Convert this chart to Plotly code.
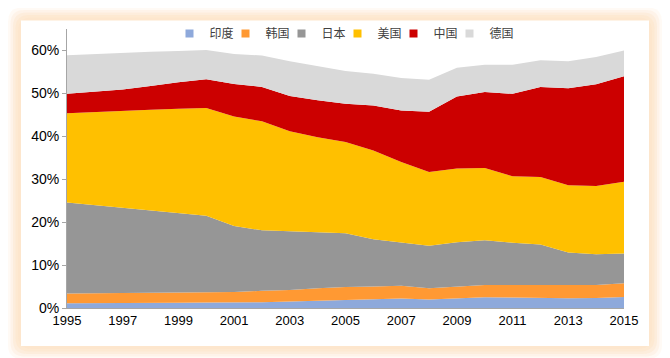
import plotly.graph_objects as go

years = list(range(1995, 2016))
tick_years = list(range(1995, 2016, 2))
y_ticks = [0, 10, 20, 30, 40, 50, 60]

# shares of world total, in percent
india   = [1.1, 1.1, 1.15, 1.2, 1.2, 1.3, 1.3, 1.35, 1.5, 1.7, 1.9, 2.0, 2.2, 2.0, 2.25, 2.5, 2.45, 2.3, 2.3, 2.35, 2.55]
korea   = [2.3, 2.35, 2.35, 2.35, 2.4, 2.35, 2.4, 2.65, 2.7, 2.9, 3.0, 3.0, 3.0, 2.6, 2.75, 2.85, 2.9, 3.05, 3.05, 3.0, 3.2]
japan   = [21.2, 20.55, 19.8, 19.25, 18.6, 17.85, 15.4, 14.1, 13.7, 13.0, 12.5, 11.0, 10.0, 9.9, 10.3, 10.45, 9.85, 9.45, 7.6, 7.15, 6.95]
usa     = [20.8, 21.7, 22.7, 23.4, 24.2, 25.1, 25.5, 25.4, 23.3, 22.2, 21.3, 20.7, 18.8, 17.2, 17.2, 16.8, 15.5, 15.7, 15.65, 15.9, 16.7]
china   = [4.5, 4.7, 4.9, 5.5, 6.2, 6.7, 7.6, 8.0, 8.2, 8.6, 8.9, 10.5, 12.0, 14.0, 16.8, 17.7, 19.2, 21.0, 22.6, 23.7, 24.6]
germany = [9.0, 8.8, 8.6, 8.0, 7.3, 6.8, 7.0, 7.3, 8.1, 7.9, 7.6, 7.4, 7.6, 7.5, 6.7, 6.4, 6.8, 6.2, 6.3, 6.4, 6.0]

series_names = ["印度", "韩国", "日本", "美国", "中国", "德国"]
series_values = [india, korea, japan, usa, china, germany]
series_colors = ["#8EA9DB", "#FF9933", "#969696", "#FFC000", "#CC0000", "#D9D9D9"]

# page body has an 8px margin, so the figure is drawn 8px smaller
W, H = 662, 350
L, R, T, B = 59, 46, 20.5, 50
pw, ph = W - L - R, H - T - B

fig = go.Figure()
for name, vals, col in zip(series_names, series_values, series_colors):
    fig.add_trace(go.Scatter(
        x=years, y=vals, name=name, stackgroup="one", mode="lines",
        line=dict(width=0, color=col), fillcolor=col, showlegend=False,
        hoverinfo="skip"))
# legend entries with square markers
for name, col in zip(series_names, series_colors):
    fig.add_trace(go.Scatter(
        x=[None], y=[None], name=name, mode="markers",
        marker=dict(symbol="square", size=8, color=col), showlegend=True))
# invisible spacer so the last legend label is not clipped
fig.add_trace(go.Scatter(x=[None], y=[None], name=" ", mode="markers",
                         marker=dict(size=1, color="rgba(0,0,0,0)"),
                         showlegend=True, hoverinfo="skip"))


def px2paper(x, y):
    return (x - L) / pw, (H - B - y) / ph


def rrect(x0, y0, x1, y1, r):
    def P(x, y):
        a, b = px2paper(x, y)
        return f"{a:.5f},{b:.5f}"
    return (f"M{P(x0 + r, y0)} L{P(x1 - r, y0)} Q{P(x1, y0)} {P(x1, y0 + r)} "
            f"L{P(x1, y1 - r)} Q{P(x1, y1)} {P(x1 - r, y1)} L{P(x0 + r, y1)} "
            f"Q{P(x0, y1)} {P(x0, y1 - r)} L{P(x0, y0 + r)} Q{P(x0, y0)} {P(x0 + r, y0)} Z")


PX0, PY0, PX1, PY1 = 13, 12, 641, 338  # white panel, pixels
shapes = []
for i, op in enumerate([0.2, 0.3, 0.45, 0.65, 0.9]):
    g = 13 - i * 2.5
    shapes.append(dict(type="path", xref="paper", yref="paper", layer="below",
                       path=rrect(PX0 - g, PY0 - g, PX1 + g, PY1 + g, 14),
                       fillcolor="#FDE6CC", opacity=op, line=dict(width=0)))
x0p, y1p = px2paper(PX0, PY0)
x1p, y0p = px2paper(PX1, PY1)
shapes.append(dict(type="rect", xref="paper", yref="paper", layer="below",
                   x0=x0p, x1=x1p, y0=y0p, y1=y1p,
                   fillcolor="white", line=dict(width=0)))

fig.update_layout(
    width=W, height=H,
    margin=dict(l=L, r=R, t=T, b=B, autoexpand=False),
    paper_bgcolor="white", plot_bgcolor="white",
    shapes=shapes,
    font=dict(family="Liberation Sans, Arial, sans-serif", size=13, color="#000000"),
    showlegend=True,
    legend=dict(orientation="h", xref="container", yref="container",
                x=161.5 / W, y=1 - 11 / H, xanchor="left", yanchor="top",
                entrywidth=11, entrywidthmode="pixels", itemwidth=30,
                traceorder="normal",
                font=dict(family="Noto Sans CJK SC", size=12, color="#404040"),
                bgcolor="rgba(0,0,0,0)", tracegroupgap=0),
    xaxis=dict(range=[1995, 2015], tickmode="array", tickvals=tick_years,
               ticktext=[str(y) for y in tick_years], showgrid=False,
               zeroline=False, showline=True, linecolor="#A6A6A6", linewidth=1,
               ticks="", tickfont=dict(size=13), fixedrange=True),
    yaxis=dict(range=[0, 65], tickmode="array", tickvals=y_ticks,
               ticktext=[f"{v}%" for v in y_ticks], showgrid=False,
               zeroline=False, showline=True,
               linecolor="#A6A6A6", linewidth=1, ticks="outside", ticklen=4,
               tickcolor="#A6A6A6", tickfont=dict(size=14), fixedrange=True),
)

fig.write_html("out.html")
